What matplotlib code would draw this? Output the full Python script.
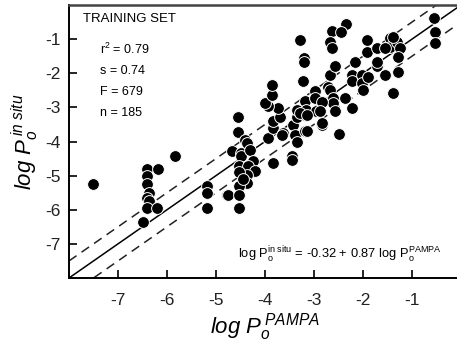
import numpy as np
import matplotlib
matplotlib.use('Agg')
import matplotlib.pyplot as plt

plt.rcParams['font.family'] = ['Liberation Sans', 'DejaVu Sans']
plt.rcParams['mathtext.fontset'] = 'custom'
plt.rcParams['mathtext.rm'] = 'Liberation Sans'
plt.rcParams['mathtext.it'] = 'Liberation Sans:italic'
plt.rcParams['axes.unicode_minus'] = False

# log Po (PAMPA) vs log Po (in situ)
pampa = [-7.51,
         -6.40, -6.18, -5.84, -6.40, -6.40, -6.37, -6.40, -6.37, -6.40, -6.20, -6.50,
         -5.18, -5.18, -5.18, -4.78,
         -4.56, -4.56, -4.41, -4.37, -4.68, -4.48, -4.48, -4.31, -4.24, -4.54,
         -4.34, -4.20, -4.37, -4.37, -4.54, -4.75, -4.54, -4.54, -4.54, -4.45,
         -3.93, -3.83, -3.83, -3.83, -3.69, -3.73, -3.93, -4.00, -3.86, -3.86,
         -3.63, -3.42, -3.35, -3.35, -3.39, -3.45, -3.45, -3.35, -3.66,
         -3.29, -3.20, -3.20, -3.22, -2.98, -3.18, -3.18, -3.18, -3.18, -3.16,
         -3.29, -2.98, -2.71, -2.67, -2.61, -2.61, -2.37, -2.23, -2.84, -2.95,
         -2.57, -2.84, -2.50, -3.15, -2.84, -2.88, -3.15,
         -2.64, -2.35, -2.44, -2.67, -2.64, -2.67, -2.57, -2.16, -2.23, -2.23,
         -2.03, -2.03, -2.00, -1.89, -1.72, -1.72, -1.55, -1.28, -1.38, -1.92,
         -1.92, -1.72, -1.45, -1.45, -1.31, -1.24, -1.28, -1.55, -1.38,
         -0.56, -0.53, -0.53]
insitu = [-5.26,
          -4.80, -4.80, -4.43, -5.00, -5.26, -5.51, -5.65, -5.75, -5.95, -5.95, -6.35,
          -5.31, -5.50, -5.95, -5.58,
          -3.27, -3.72, -3.95, -4.04, -4.29, -4.34, -4.43, -4.24, -4.56, -4.73,
          -4.73, -4.85, -4.97, -5.21, -5.31, -5.56, -5.56, -5.94, -4.90, -5.10,
          -3.90, -4.63, -3.61, -3.41, -3.27, -3.02, -2.97, -2.87, -2.63, -2.34,
          -3.75, -3.51, -3.27, -3.07, -3.80, -4.43, -4.53, -4.00, -3.80,
          -1.02, -1.56, -1.68, -2.22, -2.53, -2.80, -3.22, -3.70, -3.12, -3.07,
          -3.17, -2.73, -2.40, -2.50, -2.73, -2.87, -2.73, -3.02, -2.83, -3.12,
          -3.12, -3.51, -3.77, -3.22, -3.46, -3.12, -3.70,
          -0.75, -0.56, -0.80, -1.07, -1.27, -2.05, -1.80, -1.66, -2.05, -2.24,
          -2.05, -2.29, -2.49, -2.10, -1.80, -1.66, -2.05, -1.95, -2.58, -1.02,
          -1.37, -1.27, -0.97, -1.22, -1.07, -1.27, -1.51, -1.27, -0.93,
          -0.39, -0.78, -1.10]

xticks = [-7, -6, -5, -4, -3, -2, -1]
yticks = [-1, -2, -3, -4, -5, -6, -7]
stats = ['$\\mathregular{r^2}$ = 0.79', 's = 0.74', 'F = 679', 'n = 185']
band = 0.5

fig = plt.figure(figsize=(4.57, 3.55), dpi=100)
ax = fig.add_axes([69 / 457, 1 - 278 / 355, 392 / 457, 273 / 355])

line_x = np.array([-8.0, 0.0])
ax.plot(line_x, line_x, color='black', lw=1.1, zorder=1)
ax.plot(line_x, line_x + band, color='#222222', lw=1.1, ls=(0, (6, 4)), zorder=1)
ax.plot(line_x, line_x - band, color='#222222', lw=1.1, ls=(0, (6, 4)), zorder=1)

ax.scatter(pampa, insitu, s=72, c='black', edgecolors='white', linewidths=0.7, zorder=3)

ax.set_xlim(-8, 0)
ax.set_ylim(-8, 0)
ax.set_xticks(xticks)
ax.set_yticks(yticks)
ax.tick_params(axis='x', direction='in', length=6, width=1.2, labelsize=12.5, pad=11,
               labelcolor='#222222')
ax.tick_params(axis='y', direction='in', length=6, width=1.2, labelsize=12.5, pad=6,
               labelcolor='#222222')
ax.spines['right'].set_visible(False)
ax.spines['top'].set_color('#444444')
ax.spines['top'].set_linewidth(1.8)
ax.spines['left'].set_linewidth(1.4)
ax.spines['bottom'].set_linewidth(1.4)

ax.set_xlabel('$\\mathit{log\\ P_o^{\\,PAMPA}}$', fontsize=16, labelpad=2)
ax.set_ylabel('$\\mathit{log\\ P_o^{\\,in\\ situ}}$', fontsize=16, labelpad=3)

ax.text(0.036, 0.95, 'TRAINING SET', transform=ax.transAxes, fontsize=9.5, va='center')
for i, s in enumerate(stats):
    ax.text(0.08, 0.838 - i * 0.078, s, transform=ax.transAxes, fontsize=9, va='center')

ax.text(0.43, 0.085,
        'log P$\\mathregular{_o^{in\\ situ}}$ = -0.32 + 0.87 log P$\\mathregular{_o^{PAMPA}}$',
        transform=ax.transAxes, fontsize=9.3, va='center')

fig.savefig('out.png', dpi=100)
